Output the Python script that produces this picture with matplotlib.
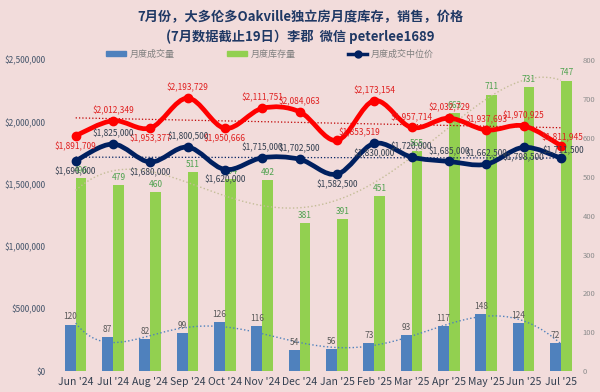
import numpy as np
import matplotlib.pyplot as plt
from matplotlib.path import Path
from matplotlib.patches import PathPatch, Patch
from matplotlib.lines import Line2D
from matplotlib.ticker import FuncFormatter

plt.rcParams['font.family'] = ['Noto Sans CJK SC', 'DejaVu Sans']

# data
months = ["Jun '24", "Jul '24", "Aug '24", "Sep '24", "Oct '24", "Nov '24", "Dec '24",
          "Jan '25", "Feb '25", "Mar '25", "Apr '25", "May '25", "Jun '25", "Jul '25"]
sold = [120, 87, 82, 99, 126, 116, 54, 56, 73, 93, 117, 148, 124, 72]
inventory = [496, 479, 460, 511, 494, 492, 381, 391, 451, 565, 663, 711, 731, 747]
avg_price = [1891709, 2012349, 1953377, 2193729, 1950666, 2111751, 2084063,
             1853519, 2173154, 1957714, 2032729, 1937693, 1970925, 1811945]
median_price = [1690000, 1825000, 1680000, 1800500, 1620000, 1715000, 1702500,
                1582500, 1830000, 1720000, 1685000, 1662500, 1798500, 1711500]

# label placement (style only)
avg_pos = ['b', 'a', 'b', 'a', 'b', 'a', 'a', 'r', 'a', 'a', 'a', 'a', 'a', 'r']
med_pos = ['b', 'a', 'b', 'a', 'b', 'a', 'a', 'b', 'b', 'a', 'a', 'a', 'b', 'r']

BG = '#F2DCDB'
BLUE = '#4F81BD'
GREEN = '#92D050'
RED = '#FF0000'
NAVY = '#002060'


def smooth_path(x, y):
    # excel-like smoothed line as bezier segments through the points
    pts = np.column_stack([x, y]).astype(float)
    verts = [pts[0]]
    codes = [Path.MOVETO]
    n = len(pts)
    for i in range(n - 1):
        p0 = pts[max(i - 1, 0)]
        p1 = pts[i]
        p2 = pts[i + 1]
        p3 = pts[min(i + 2, n - 1)]
        c1 = p1 + (p2 - p0) / 6.0
        c2 = p2 - (p3 - p1) / 6.0
        verts += [c1, c2, p2]
        codes += [Path.CURVE4] * 3
    return Path(verts, codes)


fig = plt.figure(figsize=(6, 3.92), dpi=100, facecolor=BG)
ax = fig.add_axes([0.095, 0.053, 0.871, 0.794])
ax.set_facecolor(BG)
ax2 = ax.twinx()
ax2.patch.set_visible(False)

x = np.arange(len(months))
w = 0.29

# bars on the count axis (right)
ax.bar(x - w / 2, sold, w, color=BLUE, zorder=2)
ax.bar(x + w / 2, inventory, w, color=GREEN, zorder=2)
for i in range(len(x)):
    ax.text(x[i] - w / 2, sold[i] + 8, str(sold[i]), ha='center', va='bottom',
            fontsize=6, color='#595959', zorder=5)
    ax.text(x[i] + w / 2, inventory[i] + 8, str(inventory[i]), ha='center', va='bottom',
            fontsize=6, color='#4EA24E', zorder=5)

# polynomial trend lines for the bars
xf = np.linspace(0, len(x) - 1, 200)
ax.plot(xf, np.polyval(np.polyfit(x, sold, 6), xf), ':', color=BLUE, lw=1.0, zorder=3)
ax.plot(xf, np.polyval(np.polyfit(x, inventory, 4), xf), ':', color='#C4BD97', lw=1.0, zorder=3)

ax.set_ylim(0, 800)
ax.set_yticks(range(0, 801, 100))
ax.yaxis.tick_right()
ax.set_xlim(-0.5, len(x) - 0.5)
ax.set_xticks(x)
ax.set_xticklabels(months, fontsize=7.5, color='#333F50')
ax.tick_params(axis='y', labelsize=5.5, colors='#8C8C8C', length=0, pad=2)
ax.tick_params(axis='x', length=0, pad=4)

# price lines on the left axis
ax2.set_ylim(0, 2500000)
ax2.set_yticks(range(0, 2500001, 500000))
ax2.yaxis.tick_left()
ax2.yaxis.set_major_formatter(FuncFormatter(lambda v, p: '${:,.0f}'.format(v)))
ax2.tick_params(axis='y', labelsize=6, colors='#44546A', length=0, pad=8)

for vals, col, trend_col in [(avg_price, RED, '#C00000'), (median_price, NAVY, NAVY)]:
    ax2.add_patch(PathPatch(smooth_path(x, vals), fill=False, edgecolor=col, lw=3.4,
                            capstyle='round', joinstyle='round', zorder=4))
    ax2.plot(x, vals, 'o', color=col, ms=6, zorder=5)
    k, b = np.polyfit(x, vals, 1)
    ax2.plot([x[0], x[-1]], [b, k * x[-1] + b], ':', color=trend_col, lw=0.9, zorder=3)

for vals, pos, col in [(avg_price, avg_pos, '#E02020'), (median_price, med_pos, '#333F50')]:
    for i in range(len(x)):
        s = '${:,.0f}'.format(vals[i])
        if pos[i] == 'a':
            ax2.text(x[i], vals[i] + 45000, s, ha='center', va='bottom', fontsize=6, color=col, zorder=6)
        elif pos[i] == 'b':
            ax2.text(x[i], vals[i] - 45000, s, ha='center', va='top', fontsize=6, color=col, zorder=6)
        elif i == len(x) - 1:
            ax2.text(x[i] + 0.05, vals[i] + 25000, s, ha='center', va='bottom', fontsize=6, color=col, zorder=6)
        else:
            ax2.text(x[i] + 0.05, vals[i] + 25000, s, ha='left', va='bottom', fontsize=6, color=col, zorder=6)

for a in (ax, ax2):
    for sp in a.spines.values():
        sp.set_visible(False)

# titles
fig.text(0.5, 1 - 17 / 392, '7月份，大多伦多Oakville独立房月度库存，销售，价格',
         ha='center', va='center', fontsize=9.5, fontweight='bold', color='#1F3864')
fig.text(0.5, 1 - 37 / 392, '(7月数据截止19日）李郡  微信 peterlee1689',
         ha='center', va='center', fontsize=9.5, fontweight='bold', color='#1F3864')

handles = [Patch(color=BLUE), Patch(color=GREEN),
           Line2D([0], [0], color=NAVY, lw=2.5, marker='o', ms=5)]
fig.legend(handles, ['月度成交量', '月度库存量', '月度成交中位价'], loc='center',
           bbox_to_anchor=(0.45, 1 - 54 / 392), ncol=3, frameon=False, fontsize=6.5,
           labelcolor='#7F7F7F', columnspacing=5.8, handlelength=2.2, handleheight=0.5,
           handletextpad=0.4)

fig.savefig('out.png', dpi=100, facecolor=BG)
